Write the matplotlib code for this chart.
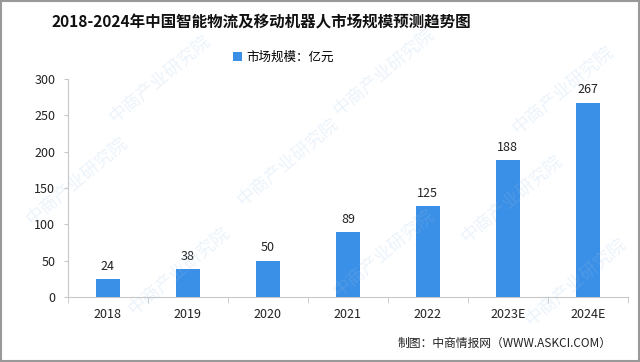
import matplotlib.pyplot as plt
import numpy as np

plt.rcParams['font.family'] = ['Noto Sans CJK SC', 'DejaVu Sans']

years = ['2018', '2019', '2020', '2021', '2022', '2023E', '2024E']
market_size = [24, 38, 50, 89, 125, 188, 267]

title = '2018-2024年中国智能物流及移动机器人市场规模预测趋势图'
legend_label = '市场规模：亿元'
source = '制图：中商情报网（WWW.ASKCI.COM）'

bar_color = '#3a8fe6'
axis_color = '#c8c8c8'

fig = plt.figure(figsize=(6.4, 3.62), dpi=100)
fig.patch.set_facecolor('white')
ax = fig.add_axes([0.106, 0.18, 0.875, 0.602])

x = np.arange(len(years))
bars = ax.bar(x, market_size, width=0.3, color=bar_color, label=legend_label, zorder=3)
for xi, v in zip(x, market_size):
    ax.text(xi, v + 9, str(v), ha='center', va='bottom', fontsize=9, color='#222222')

ax.set_xlim(-0.5, len(years) - 0.5)
ax.set_ylim(0, 300)
ax.set_yticks(range(0, 301, 50))
ax.set_xticks(x)
ax.set_xticklabels(years)
ax.set_xticks(np.arange(-0.5, len(years), 1), minor=True)
ax.tick_params(axis='x', which='major', length=0, pad=8, labelsize=9, labelcolor='#222222')
ax.tick_params(axis='x', which='minor', length=4, color=axis_color, direction='out')
ax.tick_params(axis='y', length=3, color=axis_color, pad=6, labelsize=9, labelcolor='#222222')
for s in ['top', 'right']:
    ax.spines[s].set_visible(False)
for s in ['left', 'bottom']:
    ax.spines[s].set_color(axis_color)
    ax.spines[s].set_linewidth(0.8)

fig.text(0.409, 0.938, title, ha='center', va='center', fontsize=11.2, fontweight='bold', color='#111111')
ax.legend(loc='center', bbox_to_anchor=(0.385, 1.1), frameon=False, fontsize=9,
          handlelength=0.7, handleheight=0.7, handletextpad=0.4)
fig.text(0.955, 0.052, source, ha='right', va='center', fontsize=8.5, color='#222222')

# faint watermarks
for wx, wy in [(0.25, 0.78), (0.6, 0.8), (0.88, 0.75), (0.12, 0.5), (0.45, 0.55), (0.8, 0.45),
               (0.28, 0.25), (0.6, 0.3), (0.9, 0.22)]:
    fig.text(wx, wy, '中商产业研究院', rotation=40, ha='center', va='center', fontsize=13,
             color='#9ec3ea', alpha=0.2, zorder=0)

# thin gray frame
fig.add_artist(plt.Rectangle((0.002, 0.003), 0.996, 0.994, transform=fig.transFigure,
                             fill=False, edgecolor='#999999', linewidth=1.5))

fig.savefig('out.png', dpi=100)
